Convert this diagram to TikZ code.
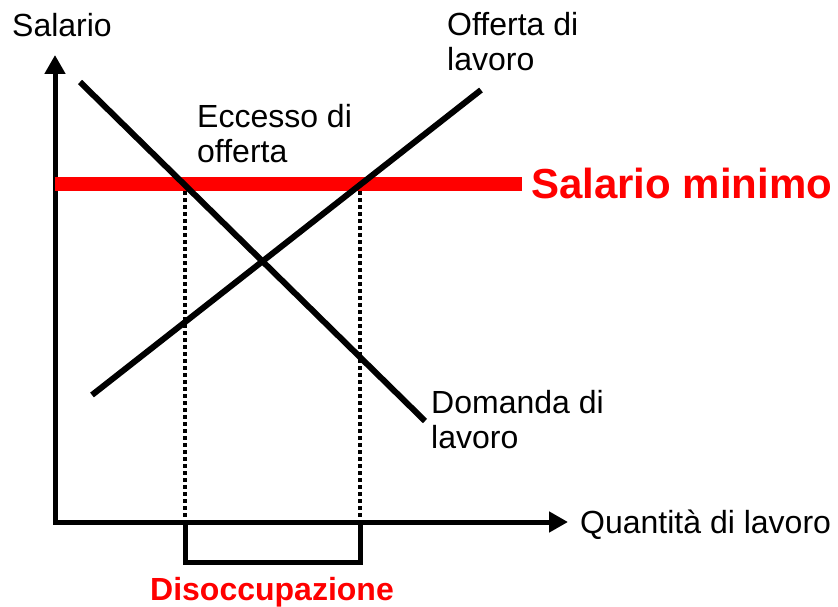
\documentclass[tikz,border=0pt]{standalone}
\usepackage{fontspec}
\setmainfont{Liberation Sans}
\usetikzlibrary{arrows.meta}
\definecolor{minred}{RGB}{255,0,0}
\begin{document}
\begin{tikzpicture}[x=1pt,y=-1pt,
  axis/.style={line width=5pt,{Triangle[length=19pt,width=20pt]}-{Triangle[length=19pt,width=20pt]}},
  curve/.style={line width=6pt},
  guide/.style={line width=3.5pt,dash pattern=on 3.5pt off 3.5pt},
  lbl/.style={anchor=base west,inner sep=0pt,align=left,font=\fontsize{32}{34.5}\selectfont},
  redlbl/.style={inner sep=0pt,text=minred,font=\bfseries\fontsize{32}{34}\selectfont}]
\useasboundingbox (0,0) rectangle (838,607);
\coordinate (O) at (55,522);
\coordinate (Ytop) at (55,55);
\coordinate (Xend) at (568,522);
\coordinate (D1) at (80,82);
\coordinate (D2) at (425,421);
\coordinate (S1) at (92,395);
\coordinate (S2) at (481,90);
\coordinate (M1) at (55,184);
\coordinate (M2) at (522,184);
\coordinate (PL) at (185,191);
\coordinate (PR) at (360,191);
\coordinate (QL) at (185,522);
\coordinate (QR) at (360,522);
\coordinate (BL) at (185,562);
\coordinate (BR) at (360,562);
% axes
\draw[axis] (Ytop) -- (O) -- (Xend);
% minimum wage line
\draw[line width=14pt,minred] (M1) -- (M2);
% curves
\draw[curve] (D1) -- (D2);
\draw[curve] (S1) -- (S2);
% dotted guides
\draw[guide] (PL) -- (QL);
\draw[guide] (PR) -- (QR);
% bracket
\draw[line width=5pt] (QL) -- (BL) -- (BR) -- (QR);
% labels
\node[lbl] (ylab) at (12,37) {Salario};
\node[lbl] (xlab) at (580,533) {Quantità di lavoro};
\node[lbl] (off) at (447,70.5) {Offerta di\\lavoro};
\node[lbl] (ecc) at (197,162) {Eccesso di\\offerta};
\node[lbl] (dom) at (431,448) {Domanda di\\lavoro};
\node[redlbl,anchor=base west,font=\bfseries\fontsize{42}{44}\selectfont] (smin) at (531,198) {Salario minimo};
\node[redlbl,anchor=base] (dis) at (272,600) {Disoccupazione};
\end{tikzpicture}
\end{document}
